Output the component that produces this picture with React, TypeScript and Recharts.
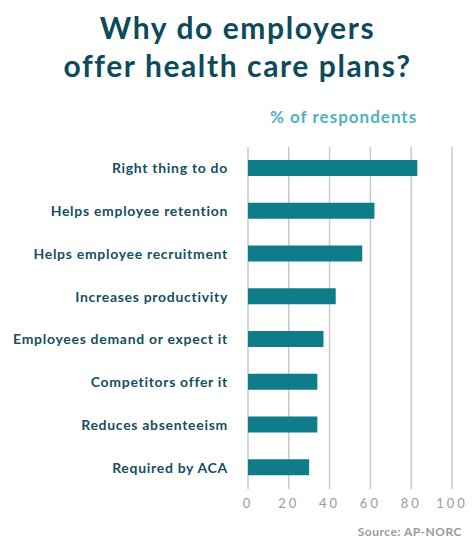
import React from "react";
import { BarChart, Bar, XAxis, YAxis, CartesianGrid } from "recharts";

const reasons = [
  "Right thing to do",
  "Helps employee retention",
  "Helps employee recruitment",
  "Increases productivity",
  "Employees demand or expect it",
  "Competitors offer it",
  "Reduces absenteeism",
  "Required by ACA",
];
const shares = [83, 62, 56, 43, 37, 34, 34, 30];
const xTicks = [0, 20, 40, 60, 80, 100];

const data = reasons.map((reason, i) => ({ reason, pct: shares[i] }));

const FONT = "Lato, 'Open Sans', sans-serif";

export default function App() {
  return (
    <div
      style={{
        position: "absolute",
        top: 0,
        left: 0,
        width: 475,
        height: 548,
        background: "#fff",
        fontFamily: FONT,
      }}
    >
      <div
        style={{
          position: "absolute",
          top: 8,
          left: 0,
          width: 475,
          textAlign: "center",
          color: "#0c4a5c",
          fontSize: 30,
          fontWeight: 700,
          letterSpacing: 1.6,
          lineHeight: "38px",
        }}
      >
        Why do employers
        <br />
        offer health care plans?
      </div>
      <div
        style={{
          position: "absolute",
          top: 106,
          left: 270,
          color: "#4db3bf",
          fontSize: 17,
          fontWeight: 700,
          letterSpacing: 1,
        }}
      >
        % of respondents
      </div>
      <BarChart
        width={475}
        height={548}
        data={data}
        layout="vertical"
        margin={{ top: 147, right: 23, bottom: 29, left: 0 }}
        barCategoryGap={0}
      >
        <CartesianGrid horizontal={false} stroke="#c9c9c9" strokeWidth={1.5} />
        <XAxis
          type="number"
          domain={[0, 100]}
          ticks={xTicks}
          axisLine={false}
          tickLine={false}
          tickSize={0}
          tickMargin={10}
          height={30}
          tick={{ fill: "#9a9a9a", fontSize: 13, letterSpacing: 3, fontFamily: FONT }}
        />
        <YAxis
          type="category"
          dataKey="reason"
          width={248}
          axisLine={false}
          tickLine={false}
          tickSize={0}
          tickMargin={20}
          tick={{
            fill: "#14505f",
            fontSize: 14,
            fontWeight: 700,
            letterSpacing: 0.7,
            fontFamily: FONT,
          }}
        />
        <Bar dataKey="pct" fill="#0f7d89" barSize={16} isAnimationActive={false} />
      </BarChart>
      <div
        style={{
          position: "absolute",
          top: 524,
          right: 13,
          color: "#9a9a9a",
          fontSize: 12,
          fontWeight: 700,
          letterSpacing: 0.5,
        }}
      >
        Source: AP-NORC
      </div>
    </div>
  );
}
